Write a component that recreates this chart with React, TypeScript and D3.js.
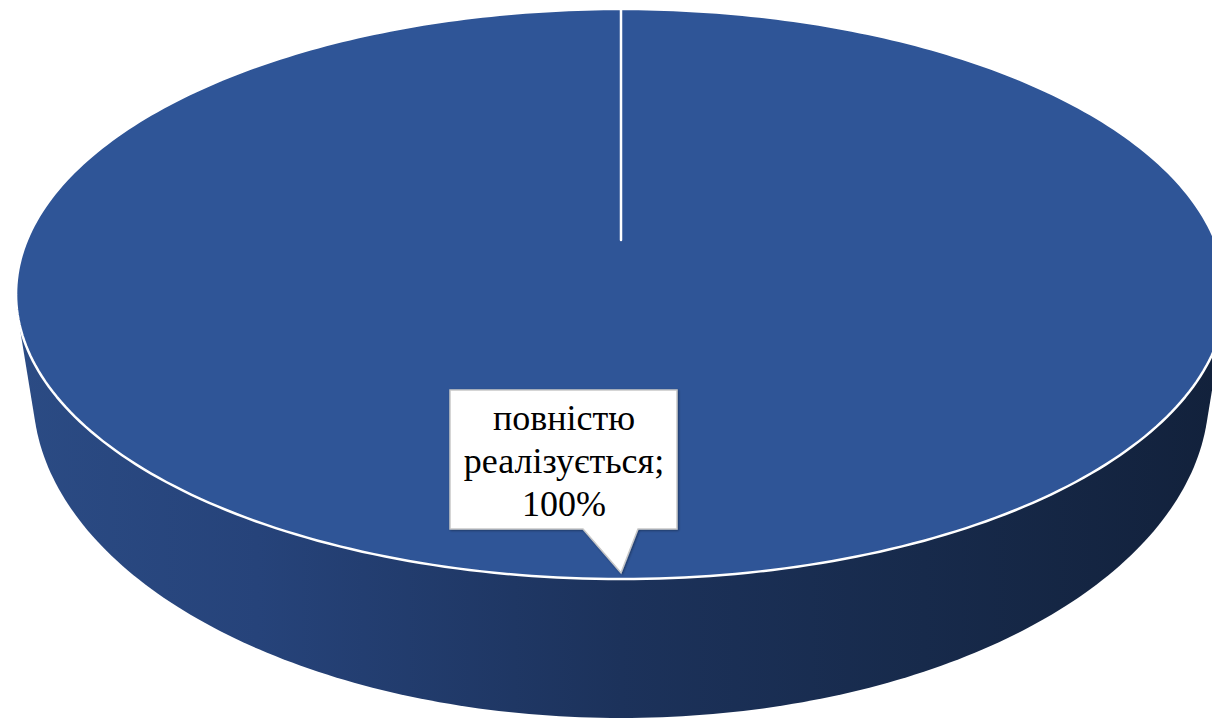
import React from "react";
import * as d3 from "d3";

const categories = ["повністю реалізується"];
const values = [100];

const W = 1212;
const H = 719;
const CX = 621;
// top face perspective params
const RX = 594;
const ALPHA = 229.3;
const BETA = 240;
const GAMMA = -0.1895;
// bottom face ellipse
const BOT = { cx: 621, cy: 394, rx: 588, ry: 324 };

function topPt(a: number, r = 1): [number, number] {
  const X = Math.sin(a) * r;
  const Y = -Math.cos(a) * r;
  const w = 1 / (1 + GAMMA * Y);
  return [CX + RX * X * w, (ALPHA * Y + BETA) * w];
}
function botPt(a: number): [number, number] {
  return [BOT.cx + BOT.rx * Math.sin(a), BOT.cy - BOT.ry * Math.cos(a)];
}

export default function App() {
  const pie = d3.pie<number>().sort(null)(values);
  const slice = pie[0];
  const total = d3.sum(values);
  const N = 360;
  const topPts = d3.range(N + 1).map((i) => topPt(slice.startAngle + ((slice.endAngle - slice.startAngle) * i) / N));
  const botPts = d3.range(N).map((i) => botPt((2 * Math.PI * i) / N));
  const hull = d3.polygonHull([...topPts, ...botPts]) || [];
  const line = d3.line();
  const hullPath = line(hull as [number, number][]) + "Z";
  const center = topPt(0, 0);
  const slicePath = "M" + center.join(",") + "L" + topPts.map((p) => p.join(",")).join("L") + "Z";

  const mid = (slice.startAngle + slice.endAngle) / 2;
  const tip = topPt(mid, 0.985);
  const pct = Math.round((values[0] / total) * 100);
  const words = categories[0].split(" ");
  const lines = [words[0], words[1] + ";", pct + "%"];

  const bx0 = 450, bx1 = 677, by0 = 390, by1 = 529;
  const calloutPath = `M${bx0},${by0}H${bx1}V${by1}H638L${tip[0]},${tip[1]}L583,${by1}H${bx0}Z`;
  const textX = 564;
  const baselines = [430, 472.5, 515.5];

  return (
    <svg width={W} height={H} style={{ position: "absolute", left: 0, top: 0 }}>
      <defs>
        <linearGradient id="wall" gradientUnits="userSpaceOnUse" x1={15} x2={1227} y1={0} y2={0}>
          <stop offset="0" stopColor="#2b4b84" />
          <stop offset="0.2" stopColor="#26437a" />
          <stop offset="0.5" stopColor="#1c325b" />
          <stop offset="0.75" stopColor="#172a4b" />
          <stop offset="1" stopColor="#12213b" />
        </linearGradient>
        <filter id="shadow" x="-10%" y="-10%" width="120%" height="130%">
          <feDropShadow dx="1" dy="1" stdDeviation="1" floodColor="#000" floodOpacity="0.35" />
        </filter>
      </defs>
      <path d={hullPath} fill="url(#wall)" />
      <path d={slicePath} fill="#2F5597" stroke="#ffffff" strokeWidth={2.5} strokeLinejoin="round" />
      <path d={calloutPath} fill="#ffffff" stroke="#c8c8c8" strokeWidth={1.5} filter="url(#shadow)" />
      {lines.map((t, i) => (
        <text
          key={i}
          x={textX}
          y={baselines[i]}
          textAnchor="middle"
          fontFamily="'Liberation Serif', 'Times New Roman', serif"
          fontSize={36}
          fill="#000"
        >
          {t}
        </text>
      ))}
    </svg>
  );
}
